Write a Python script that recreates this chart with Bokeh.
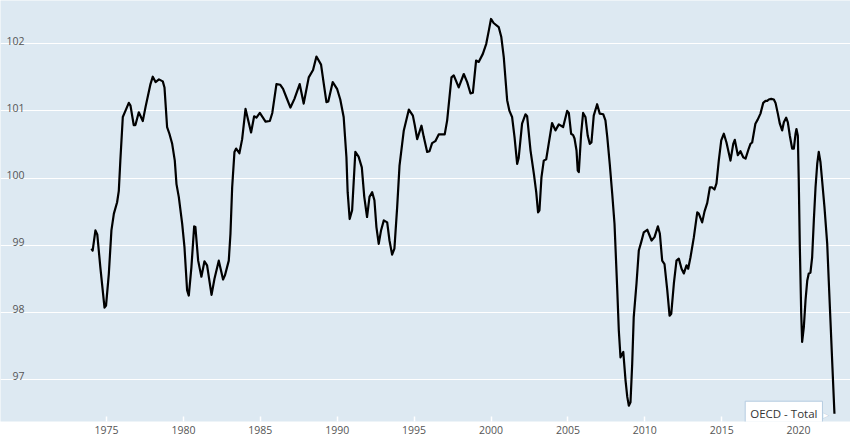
from bokeh.plotting import figure
from bokeh.models import Range1d, FixedTicker, Label, ColumnDataSource
from bokeh.embed import file_html
from bokeh.resources import INLINE

series_name = "OECD - Total"

dates = [
    1974.02, 1974.1, 1974.28, 1974.4, 1974.6, 1974.87, 1974.97, 1975.15, 1975.32, 1975.48,
    1975.69, 1975.8, 1975.9, 1976.06, 1976.23, 1976.45, 1976.56, 1976.77, 1976.88, 1977.1,
    1977.36, 1977.54, 1977.86, 1978.01, 1978.19, 1978.41, 1978.66, 1978.77, 1978.94, 1979.09,
    1979.27, 1979.44, 1979.55, 1979.7, 1979.92, 1980.07, 1980.24, 1980.35, 1980.52, 1980.7,
    1980.78, 1980.96, 1981.17, 1981.37, 1981.54, 1981.83, 1982.02, 1982.3, 1982.58, 1982.7,
    1982.95, 1983.06, 1983.17, 1983.32, 1983.43, 1983.64, 1983.82, 1984.04, 1984.4, 1984.6,
    1984.75, 1984.97, 1985.34, 1985.62, 1985.78, 1986.05, 1986.3, 1986.48, 1986.7, 1986.96,
    1987.22, 1987.56, 1987.82, 1988.15, 1988.43, 1988.65, 1988.95, 1989.13, 1989.3, 1989.42,
    1989.71, 1989.99, 1990.2, 1990.42, 1990.6, 1990.68, 1990.81, 1990.97, 1991.18, 1991.39,
    1991.6, 1991.76, 1991.94, 1992.1, 1992.27, 1992.42, 1992.55, 1992.7, 1992.85, 1993.03,
    1993.25, 1993.4, 1993.57, 1993.72, 1993.9, 1994.05, 1994.33, 1994.66, 1994.92, 1995.05,
    1995.2, 1995.48, 1995.63, 1995.85, 1996.0, 1996.17, 1996.38, 1996.6, 1996.77, 1996.99,
    1997.15, 1997.43, 1997.58, 1997.9, 1998.23, 1998.45, 1998.67, 1998.82, 1999.03, 1999.2,
    1999.47, 1999.69, 1999.86, 2000.0, 2000.17, 2000.5, 2000.67, 2000.83, 2001.05, 2001.2,
    2001.37, 2001.53, 2001.7, 2001.8, 2002.02, 2002.24, 2002.35, 2002.57, 2002.79, 2002.94,
    2003.06, 2003.15, 2003.28, 2003.43, 2003.59, 2003.75, 2003.97, 2004.19, 2004.41, 2004.69,
    2004.95, 2005.06, 2005.21, 2005.34, 2005.43, 2005.56, 2005.64, 2005.71, 2005.86, 2005.99,
    2006.14, 2006.29, 2006.42, 2006.53, 2006.68, 2006.9, 2007.07, 2007.3, 2007.44, 2007.56,
    2007.72, 2007.88, 2008.03, 2008.21, 2008.31, 2008.42, 2008.6, 2008.75, 2008.86, 2008.96,
    2009.07, 2009.18, 2009.28, 2009.46, 2009.61, 2009.77, 2009.93, 2010.16, 2010.44, 2010.63,
    2010.85, 2010.98, 2011.13, 2011.28, 2011.46, 2011.61, 2011.72, 2011.89, 2012.06, 2012.21,
    2012.39, 2012.54, 2012.71, 2012.82, 2012.97, 2013.19, 2013.41, 2013.51, 2013.73, 2013.88,
    2014.06, 2014.23, 2014.38, 2014.53, 2014.66, 2014.81, 2014.97, 2015.14, 2015.31, 2015.57,
    2015.75, 2015.85, 2016.05, 2016.22, 2016.4, 2016.55, 2016.76, 2016.87, 2016.98, 2017.19,
    2017.34, 2017.52, 2017.7, 2017.85, 2017.96, 2018.06, 2018.22, 2018.39, 2018.5, 2018.65,
    2018.78, 2018.93, 2019.04, 2019.19, 2019.3, 2019.43, 2019.58, 2019.69, 2019.8, 2019.86,
    2019.95, 2020.01, 2020.08, 2020.17, 2020.23, 2020.34, 2020.45, 2020.56, 2020.66, 2020.77,
    2020.88, 2020.99, 2021.1, 2021.21, 2021.31, 2021.42, 2021.53, 2021.68, 2021.86, 2021.96,
    2022.07, 2022.2, 2022.33,
]

values = [
    98.95, 98.92, 99.22, 99.16, 98.67, 98.07, 98.10, 98.57, 99.22, 99.47,
    99.64, 99.81, 100.26, 100.91, 101.0, 101.12, 101.08, 100.79, 100.79, 100.98,
    100.85, 101.06, 101.40, 101.51, 101.43, 101.47, 101.44, 101.35, 100.76, 100.66,
    100.51, 100.26, 99.91, 99.72, 99.32, 98.97, 98.33, 98.25, 98.67, 99.28,
    99.27, 98.77, 98.53, 98.76, 98.70, 98.26, 98.50, 98.77, 98.49, 98.55,
    98.77, 99.17, 99.86, 100.39, 100.44, 100.37, 100.58, 101.03, 100.68, 100.92,
    100.90, 100.97, 100.84, 100.85, 100.97, 101.40, 101.39, 101.33, 101.20, 101.05,
    101.18, 101.40, 101.11, 101.50, 101.61, 101.81, 101.69, 101.40, 101.13, 101.14,
    101.43, 101.33, 101.17, 100.91, 100.31, 99.79, 99.39, 99.52, 100.39, 100.32,
    100.16, 99.72, 99.42, 99.72, 99.79, 99.67, 99.27, 99.02, 99.22, 99.37,
    99.34, 99.07, 98.86, 98.95, 99.57, 100.18, 100.71, 101.02, 100.93, 100.78,
    100.58, 100.78, 100.61, 100.39, 100.40, 100.52, 100.55, 100.65, 100.65, 100.65,
    100.86, 101.50, 101.53, 101.35, 101.55, 101.43, 101.26, 101.27, 101.75, 101.73,
    101.85, 102.0, 102.20, 102.37, 102.31, 102.25, 102.10, 101.80, 101.16, 101.0,
    100.91, 100.61, 100.21, 100.30, 100.81, 100.95, 100.92, 100.41, 100.06, 99.79,
    99.49, 99.52, 100.01, 100.26, 100.28, 100.51, 100.82, 100.71, 100.80, 100.76,
    101.0, 100.97, 100.66, 100.64, 100.59, 100.41, 100.11, 100.09, 100.66, 100.97,
    100.91, 100.63, 100.51, 100.53, 100.93, 101.10, 100.96, 100.95, 100.86, 100.61,
    100.21, 99.77, 99.32, 98.33, 97.73, 97.33, 97.41, 96.98, 96.74, 96.61,
    96.66, 97.23, 97.93, 98.43, 98.92, 99.05, 99.19, 99.23, 99.07, 99.12,
    99.28, 99.17, 98.77, 98.72, 98.33, 97.95, 97.98, 98.43, 98.77, 98.80,
    98.65, 98.58, 98.70, 98.65, 98.82, 99.12, 99.49, 99.47, 99.34, 99.50,
    99.63, 99.86, 99.86, 99.83, 99.92, 100.26, 100.56, 100.66, 100.53, 100.26,
    100.51, 100.57, 100.34, 100.40, 100.31, 100.29, 100.44, 100.51, 100.53, 100.81,
    100.87, 100.96, 101.12, 101.15, 101.15, 101.17, 101.18, 101.17, 101.12, 100.96,
    100.81, 100.71, 100.83, 100.90, 100.83, 100.63, 100.44, 100.44, 100.66, 100.73,
    100.63, 99.96, 98.97, 97.98, 97.56, 97.78, 98.18, 98.47, 98.58, 98.59,
    98.82, 99.37, 99.86, 100.21, 100.39, 100.24, 99.96, 99.57, 99.02, 98.47,
    97.88, 97.18, 96.49,
]

assert len(dates) == len(values), (len(dates), len(values))

x_ticks = [1975, 1980, 1985, 1990, 1995, 2000, 2005, 2010, 2015, 2020]
y_ticks = [97, 98, 99, 100, 101, 102]

BG = "#dde9f2"
TXT = "#555555"
FONT = "Open Sans"

X0, X1 = 1968.108, 2023.374
p = figure(
    frame_width=850, frame_height=421,
    x_range=Range1d(X0, X1),
    y_range=Range1d(96.374, 102.645),
    output_backend="svg", toolbar_location=None, tools="",
    min_border_left=0, min_border_right=0, min_border_top=0, min_border_bottom=0,
)
p.background_fill_color = BG
p.border_fill_color = "white"
p.outline_line_color = None

p.yaxis.visible = False
p.xgrid.visible = False
p.ygrid.ticker = FixedTicker(ticks=y_ticks)
p.ygrid.grid_line_color = "white"
p.ygrid.grid_line_width = 1.2

xa = p.xaxis[0]
xa.ticker = FixedTicker(ticks=x_ticks)
xa.axis_line_color = None
xa.major_tick_in = 5
xa.major_tick_out = 0
xa.major_tick_line_color = "white"
xa.major_tick_line_width = 1.5
xa.minor_tick_line_color = None
xa.major_label_standoff = 4
xa.major_label_text_font = FONT
xa.major_label_text_font_size = "10.5px"
xa.major_label_text_color = TXT

for v in y_ticks:
    p.add_layout(Label(x=X0, y=v, text=str(v), x_offset=24, y_offset=3,
                       text_align="right", text_baseline="alphabetic",
                       text_font=FONT, text_font_size="10.5px", text_color=TXT))

src = ColumnDataSource(dict(x=dates, y=values))
p.line("x", "y", source=src, line_color="black", line_width=2.2, line_join="round")

# end-of-series label (tooltip-like box)
p.add_layout(Label(x=dates[-1], y=values[-1], text="\u25B6", x_offset=-5, y_offset=-1,
                   text_align="right", text_baseline="middle", text_color="white",
                   text_font="DejaVu Sans", text_font_size="9px"))
p.add_layout(Label(x=dates[-1], y=values[-1], text="\u25B7", x_offset=-5, y_offset=-1,
                   text_align="right", text_baseline="middle", text_color="#b5cbe0",
                   text_font="DejaVu Sans", text_font_size="9px"))
p.add_layout(Label(x=dates[-1], y=values[-1], text=series_name, x_offset=-12, y_offset=0,
                   text_align="right", text_baseline="middle", text_color="#333333",
                   text_font=FONT, text_font_size="11.5px",
                   background_fill_color="white", border_line_color="#b5cbe0",
                   border_line_width=1, padding=5))

open("out.html", "w").write(file_html(p, INLINE))
